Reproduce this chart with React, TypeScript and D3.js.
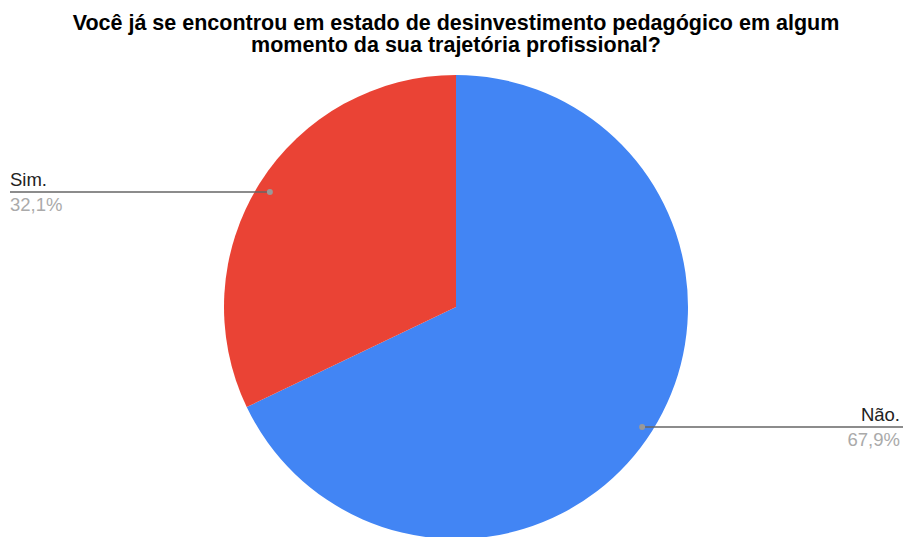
import React from "react";
import * as d3 from "d3";

const categories = ["Não.", "Sim."];
const values = [67.9, 32.1];
const labels = ["67,9%", "32,1%"];
const colors = ["#4285f4", "#ea4335"];
const titleLines = [
  "Você já se encontrou em estado de desinvestimento pedagógico em algum",
  "momento da sua trajetória profissional?",
];

export default function App() {
  const W = 903, H = 537;
  const cx = 456, cy = 307, r = 232;
  const pie = d3.pie<number>().sort(null).value((d) => d);
  const arcs = pie(values);
  const arc = d3.arc<d3.PieArcDatum<number>>().innerRadius(0).outerRadius(r);
  const font = "'Liberation Sans', Arial, sans-serif";
  return (
    <svg width={W} height={H} style={{ position: "absolute", left: 0, top: 0, background: "#fff" }}>
      <rect width={W} height={H} fill="#fff" />
      {titleLines.map((t, i) => (
        <text key={i} x={456} y={30 + i * 22} textAnchor="middle" fontFamily={font} fontWeight="bold" fontSize={21.5} fill="#000">
          {t}
        </text>
      ))}
      <g transform={`translate(${cx},${cy})`}>
        {arcs.map((a, i) => (
          <path key={i} d={arc(a) || ""} fill={colors[i]} />
        ))}
      </g>
      {arcs.map((a, i) => {
        const mid = (a.startAngle + a.endAngle) / 2;
        const dr = 220;
        const dx = cx + dr * Math.sin(mid);
        const right = Math.sin(mid) > 0;
        const lineY = right ? 427 : 192;
        const x2 = right ? W : 10;
        const tx = right ? 900 : 10;
        const anchor = right ? "end" : "start";
        return (
          <g key={i}>
            <line x1={dx} y1={lineY} x2={x2} y2={lineY} stroke="#666" strokeWidth={1.3} />
            <circle cx={dx} cy={lineY} r={3} fill="#999" />
            <text x={tx} y={lineY - 6} textAnchor={anchor} fontFamily={font} fontSize={18.5} fill="#222">
              {categories[i]}
            </text>
            <text x={tx} y={lineY + 19} textAnchor={anchor} fontFamily={font} fontSize={18.5} fill="#aaa">
              {labels[i]}
            </text>
          </g>
        );
      })}
    </svg>
  );
}
